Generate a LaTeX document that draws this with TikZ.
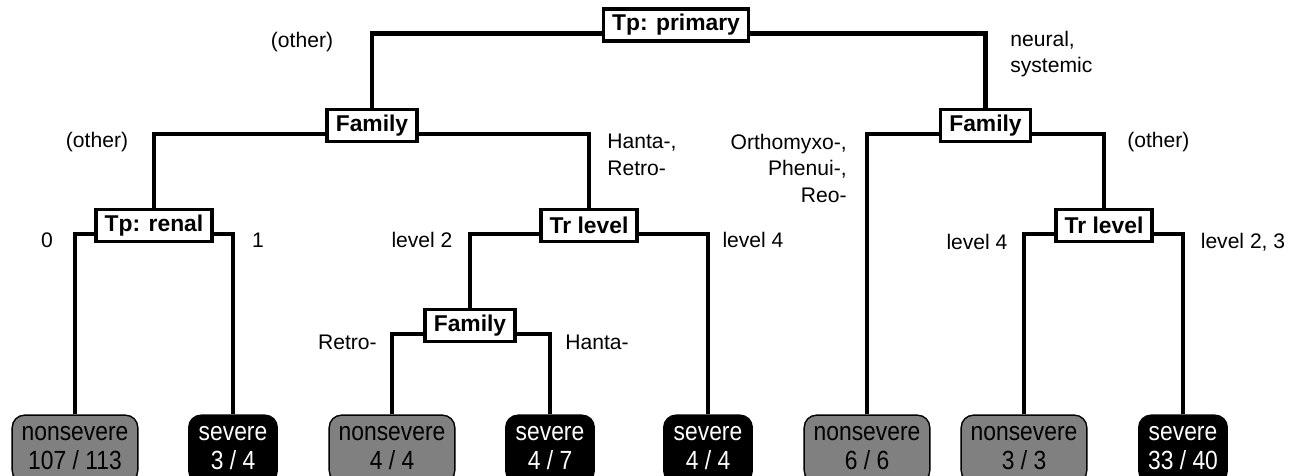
\documentclass[tikz,border=0pt]{standalone}
\usepackage{graphicx}
\usepackage{fontspec}
\setmainfont{Liberation Sans}
\definecolor{leafgray}{RGB}{128,128,128}
\newcommand\leaftext[2]{\scalebox{1}[1.15]{\begin{tabular}{@{}c@{}}#1\\#2\end{tabular}}}

\begin{document}
\begin{tikzpicture}[x=0.02cm, y=-0.02cm,
                    split node/.style={rectangle,draw,fill=white,line width=2pt,
                      font=\fontsize{13}{15.4}\selectfont\bfseries,
                      minimum height=18pt,inner xsep=5pt,inner ysep=0pt},
                    leaf node/.style={rectangle,draw,rounded corners=7pt,line width=0.8pt,
                      font=\fontsize{13}{14.8}\selectfont,
                      minimum height=38.5pt,inner sep=0pt},
                    nonsevere/.style={leaf node,fill=leafgray,minimum width=71.5pt},
                    severe/.style={leaf node,fill=black,text=white,minimum width=50.4pt},
                    branch label/.style={font=\fontsize{12}{15.1}\selectfont,inner sep=0pt},
                    branch/.style={line width=2.3pt}]
  \useasboundingbox (0,0) rectangle (1302,476);

  \node[split node] (tp) at (676,25) {Tp: primary};
  \node[split node] (famA) at (372,125.5) {Family};
  \node[split node] (famB) at (985.5,125.5) {Family};
  \node[split node] (renal) at (154,225.5) {Tp: renal};
  \node[split node] (trA) at (589,225.5) {Tr level};
  \node[split node] (trB) at (1104,225.5) {Tr level};
  \node[split node] (famC) at (470,325.5) {Family};

  \node[nonsevere] (l1) at (75,449) {\leaftext{nonsevere}{107 / 113}};
  \node[severe] (l2) at (233,449) {\leaftext{severe}{3 / 4}};
  \node[nonsevere] (l3) at (392,449) {\leaftext{nonsevere}{4 / 4}};
  \node[severe] (l4) at (550,449) {\leaftext{severe}{4 / 7}};
  \node[severe] (l5) at (708,449) {\leaftext{severe}{4 / 4}};
  \node[nonsevere] (l6) at (867,449) {\leaftext{nonsevere}{6 / 6}};
  \node[nonsevere] (l7) at (1024,449) {\leaftext{nonsevere}{3 / 3}};
  \node[severe] (l8) at (1183,449) {\leaftext{severe}{33 / 40}};

  \draw[branch] ([yshift=-0.17cm]tp.west) -| (famA);
  \draw[branch] ([yshift=-0.17cm]tp.east) -| (famB);
  \draw[branch] ([yshift=-0.17cm]famA.west) -| (renal);
  \draw[branch] ([yshift=-0.17cm]famA.east) -| (trA);
  \draw[branch] ([yshift=-0.17cm]famB.west) -| (l6);
  \draw[branch] ([yshift=-0.17cm]famB.east) -| (trB);
  \draw[branch] ([yshift=-0.17cm]renal.west) -| (l1);
  \draw[branch] ([yshift=-0.17cm]renal.east) -| (l2);
  \draw[branch] ([yshift=-0.17cm]trA.west) -| (famC);
  \draw[branch] ([yshift=-0.17cm]trA.east) -| (l5);
  \draw[branch] ([yshift=-0.17cm]famC.west) -| (l3);
  \draw[branch] ([yshift=-0.17cm]famC.east) -| (l4);
  \draw[branch] ([yshift=-0.17cm]trB.west) -| (l7);
  \draw[branch] ([yshift=-0.17cm]trB.east) -| (l8);

  \node[branch label] (b1) at (302,42) {(other)};
  \node[branch label,align=left,anchor=west] (b2) at (1010,54) {neural,\\systemic};
  \node[branch label] (b3) at (97,142) {(other)};
  \node[branch label,align=left,anchor=west] (b4) at (607,155) {Hanta-,\\Retro-};
  \node[branch label,align=right,anchor=east] (b5) at (847,168) {Orthomyxo-,\\Phenui-,\\Reo-};
  \node[branch label,anchor=west] (b6) at (1127,142) {(other)};
  \node[branch label] (b7) at (47,240) {0};
  \node[branch label] (b8) at (258,240) {1};
  \node[branch label] (b9) at (422,240) {level 2};
  \node[branch label] (b10) at (753,240) {level 4};
  \node[branch label] (b11) at (977,242) {level 4};
  \node[branch label] (b12) at (1243,242) {level 2, 3};
  \node[branch label,anchor=east] (b13) at (377,342) {Retro-};
  \node[branch label,anchor=west] (b14) at (565,342) {Hanta-};
\end{tikzpicture}
\end{document}
